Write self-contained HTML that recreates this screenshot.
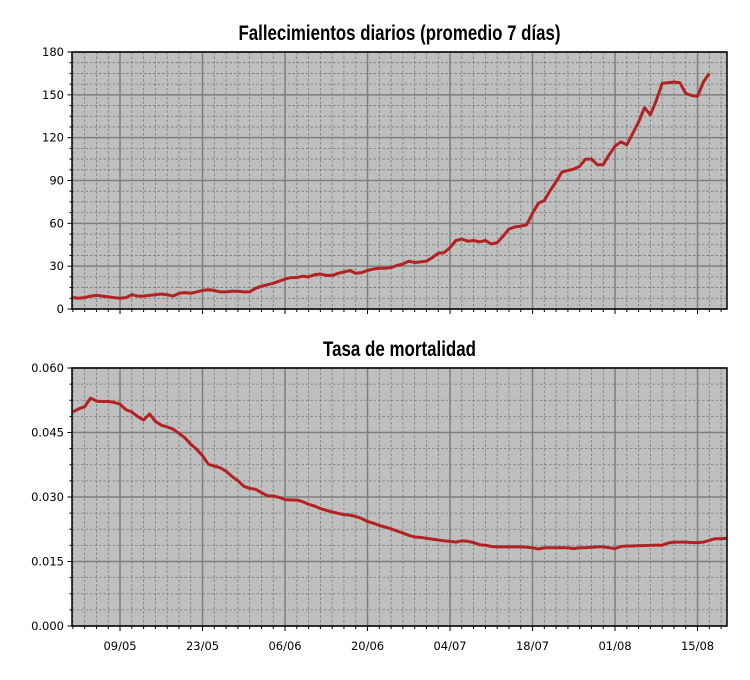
<!DOCTYPE html>
<html><head><meta charset="utf-8"><style>
body{margin:0;background:#fff;}
svg text{font-family:"DejaVu Sans","Liberation Sans",sans-serif;font-size:11.5px;fill:#000;}
svg text.title{font-family:"Liberation Sans Narrow","Liberation Sans",sans-serif;font-weight:bold;font-size:21px;}
</style></head><body>
<svg id="chart" width="750" height="675" xmlns="http://www.w3.org/2000/svg"></svg>
<script>
const deaths=[8,7.5,8,9,9.5,9,8.5,8,7.5,8,10,9,9,9.5,10,10.5,10,9,11,11.5,11,12,13,13.5,13,12,12,12.5,12.5,12,12,14.5,16,17,18,19.5,21,22,22,23,22.5,24,24.5,23.5,23.5,25,26,27,25,25.5,27,28,28.5,28.5,29,30.5,31.5,33.5,32.5,33,33.5,36,39,39.5,43,48,49,47.5,48,47,48,45.5,46.5,51,56,57.5,58,59,67,74,76,83,89,96,97,98,100,105,105,101,101,108,114,117,115,123,131,141,136,146,158,158.5,159,158.5,151,149.5,149,159,165];
const rate=[0.0498,0.0505,0.051,0.053,0.0523,0.0522,0.0522,0.052,0.0516,0.0503,0.0498,0.0487,0.0479,0.0493,0.0476,0.0467,0.0463,0.0458,0.0448,0.0438,0.0423,0.0411,0.0396,0.0376,0.0372,0.0368,0.036,0.0348,0.0338,0.0325,0.032,0.0318,0.031,0.0303,0.0302,0.0299,0.0294,0.0293,0.0293,0.0289,0.0283,0.0279,0.0273,0.0269,0.0265,0.0262,0.0259,0.0258,0.0255,0.025,0.0243,0.0239,0.0234,0.023,0.0226,0.0221,0.0216,0.0211,0.0207,0.0206,0.0204,0.0202,0.02,0.0198,0.0197,0.0195,0.0198,0.0197,0.0194,0.0189,0.0188,0.0185,0.0184,0.0184,0.0184,0.0184,0.0184,0.0183,0.0182,0.0179,0.0182,0.0182,0.0182,0.0182,0.0182,0.018,0.0182,0.0182,0.0183,0.0184,0.0184,0.0182,0.018,0.0185,0.0186,0.0186,0.0187,0.0187,0.0188,0.0188,0.0188,0.0193,0.0195,0.0195,0.0195,0.0194,0.0194,0.0195,0.0199,0.0203,0.0203,0.0204,0.0205];
const xTickLabels=["09/05","23/05","06/06","20/06","04/07","18/07","01/08","15/08"];
const xTickDays=[8,22,36,50,64,78,92,106];
const topTicks=[0,30,60,90,120,150,180];
const botTicks=["0.000","0.015","0.030","0.045","0.060"];
const NS="http://www.w3.org/2000/svg";
const svg=document.getElementById('chart');
function mk(tag,attrs,parent){const e=document.createElementNS(NS,tag);for(const k in attrs)e.setAttribute(k,attrs[k]);(parent||svg).appendChild(e);return e;}
const X0=72,X1=727,DMIN=-0.15,DMAX=111.0;
function xs(d){return X0+(d-DMIN)/(DMAX-DMIN)*(X1-X0);}
function panel(top,bot,ymax,nMajor,labels,data,title,titleW,name){
  const g=mk('g',{});
  
  
  const ys=v=>bot-(v/ymax)*(bot-top);
  const bg=mk('rect',{x:X0,y:top,width:X1-X0,height:bot-top,fill:'#bfbfbf'},g);
  
  
  const step=ymax/nMajor;
  for(let i=0;i<=nMajor*4;i++){const v=i*step/4;const y=ys(v);
    if(i%4){mk('line',{x1:X0,x2:X1,y1:y,y2:y,stroke:'#7a7a7a','stroke-width':0.8,'stroke-dasharray':'2.5,2'},g);}
    mk('line',{x1:X0-(i%4?2.5:4.5),x2:X0,y1:y,y2:y,stroke:'#000','stroke-width':1},g);}
  for(let d=-2;d<=112;d+=2){if(d<DMIN||d>DMAX)continue;const x=xs(d);
    const major=((d-8)%14===0);
    if(!major)mk('line',{x1:x,x2:x,y1:top,y2:bot,stroke:'#7a7a7a','stroke-width':0.8,'stroke-dasharray':'2.5,2'},g);
    mk('line',{x1:x,x2:x,y1:bot,y2:bot+(major?5:3),stroke:'#000','stroke-width':1},g);}
  for(let i=0;i<=nMajor;i++){const y=ys(i*step);
    mk('line',{x1:X0,x2:X1,y1:y,y2:y,stroke:'#7f7f7f','stroke-width':1.5},g);
    const t=mk('text',{x:X0-8,y:y+4,'text-anchor':'end'},g);t.textContent=labels[i];
    
    }
  xTickDays.forEach(d=>{const x=xs(d);mk('line',{x1:x,x2:x,y1:top,y2:bot,stroke:'#7f7f7f','stroke-width':1.5},g);});
  const pts=data.map((v,i)=>xs(i).toFixed(1)+','+ys(v).toFixed(1)).join(' ');
  const cp=mk('clipPath',{id:'c'+name},g);mk('rect',{x:X0,y:top,width:X1-X0,height:bot-top},cp);
  const pl=mk('polyline',{points:pts,fill:'none',stroke:'#b22222','stroke-width':3,'stroke-linejoin':'round','clip-path':'url(#c'+name+')'},g);
  
  
  const fr=mk('rect',{x:X0,y:top,width:X1-X0,height:bot-top,fill:'none',stroke:'#000','stroke-width':1.5},g);
  
  
  const tt=mk('text',{x:(X0+X1)/2,y:top-12,'text-anchor':'middle',class:'title',textLength:titleW,lengthAdjust:'spacingAndGlyphs'},g);tt.textContent=title;
  
  
  return g;
}
panel(52,309,180,6,topTicks,deaths,'Fallecimientos diarios (promedio 7 días)',322,'deaths-panel');
panel(368,626,0.06,4,botTicks,rate,'Tasa de mortalidad',153,'mortality-panel');
xTickDays.forEach((d,i)=>{const t=mk('text',{x:xs(d),y:650,'text-anchor':'middle'});t.textContent=xTickLabels[i];
  
  });
</script>
</body></html>
